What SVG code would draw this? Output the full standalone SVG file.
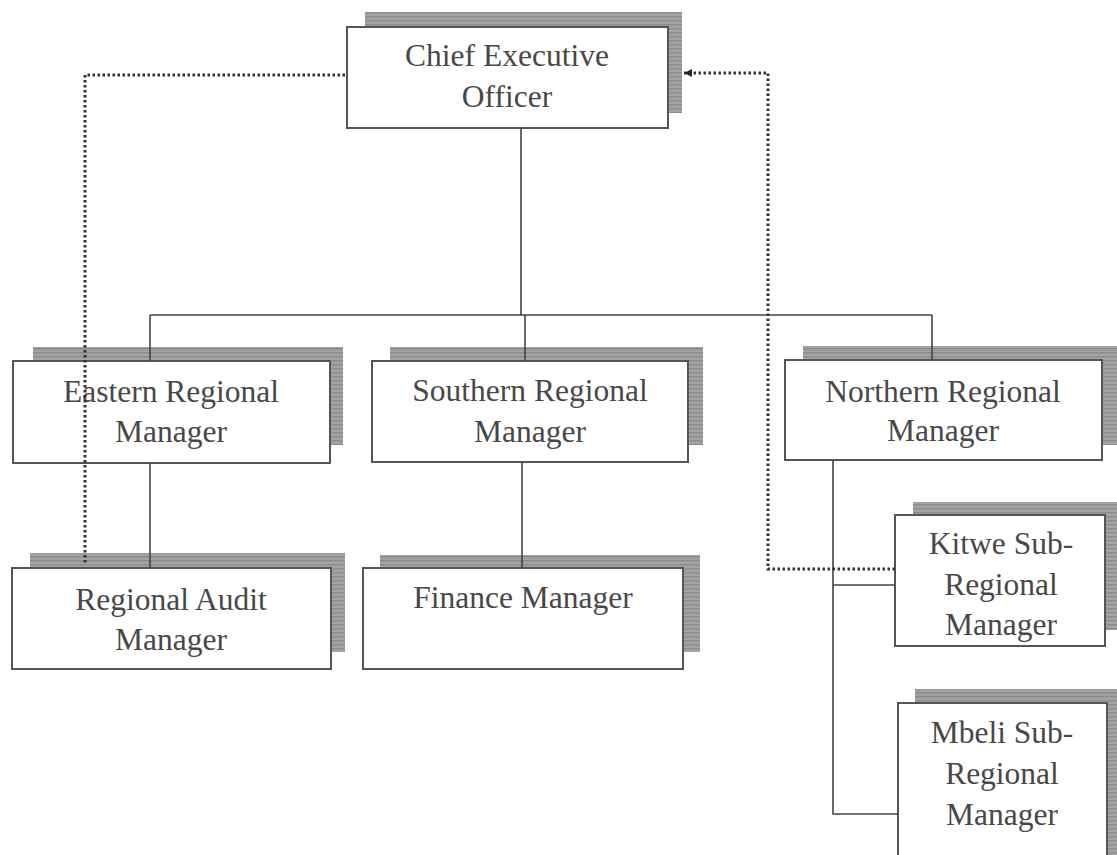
<svg xmlns="http://www.w3.org/2000/svg" width="1117" height="855" viewBox="0 0 1117 855">
<style>
.box{fill:#fff;stroke:#555;stroke-width:2}
.sh{fill:url(#stripe)}
.t{font-family:"Liberation Serif","Times New Roman",serif;font-size:31.5px;fill:#484848;text-anchor:middle}
.c{fill:none;stroke:#444;stroke-width:1.6}
.d{fill:none;stroke:#333;stroke-width:3;stroke-dasharray:2.5 2.5}
</style>
<defs>
<pattern id="stripe" width="6" height="4" patternUnits="userSpaceOnUse">
<rect width="6" height="4" fill="#a3a3a3"/>
<rect width="6" height="1.5" fill="#8c8c8c"/>
</pattern>
<marker id="ah" markerWidth="10" markerHeight="10" refX="8" refY="5" orient="auto" markerUnits="userSpaceOnUse">
<path d="M0,1 L8,5 L0,9 Z" fill="#222"/>
</marker>
</defs>
<rect width="1117" height="855" fill="#fff"/>
<g id="ceo">
<path class="sh" d="M365,12 H682 V113 H668 V27 H365 Z"/>
<rect class="box" x="347" y="27" width="321" height="101"/>
<text class="t" x="507" y="66">Chief Executive</text>
<text class="t" x="507" y="107">Officer</text>
</g>
<g id="eastern">
<path class="sh" d="M33,347 H343 V445 H330 V361 H33 Z"/>
<rect class="box" x="13" y="361" width="317" height="102"/>
<text class="t" x="171" y="402">Eastern Regional</text>
<text class="t" x="171" y="442">Manager</text>
</g>
<g id="southern">
<path class="sh" d="M390,347 H703 V445 H688 V361 H390 Z"/>
<rect class="box" x="372" y="361" width="316" height="101"/>
<text class="t" x="530" y="401">Southern Regional</text>
<text class="t" x="530" y="442">Manager</text>
</g>
<g id="northern">
<path class="sh" d="M803,346 H1117 V445 H1102 V360 H803 Z"/>
<rect class="box" x="785" y="360" width="317" height="100"/>
<text class="t" x="943" y="402">Northern Regional</text>
<text class="t" x="943" y="441">Manager</text>
</g>
<g id="audit">
<path class="sh" d="M30,553 H345 V652 H331 V568 H30 Z"/>
<rect class="box" x="12" y="568" width="319" height="101"/>
<text class="t" x="171" y="610">Regional Audit</text>
<text class="t" x="171" y="650">Manager</text>
</g>
<g id="finance">
<path class="sh" d="M380,555 H700 V652 H683 V568 H380 Z"/>
<rect class="box" x="363" y="568" width="320" height="101"/>
<text class="t" x="523" y="608">Finance Manager</text>
</g>
<g id="kitwe">
<path class="sh" d="M913,502 H1117 V630 H1105 V515 H913 Z"/>
<rect class="box" x="895" y="515" width="210" height="131"/>
<text class="t" x="1001" y="554">Kitwe Sub-</text>
<text class="t" x="1001" y="595">Regional</text>
<text class="t" x="1001" y="635">Manager</text>
</g>
<g id="mbeli">
<path class="sh" d="M915,689 H1117 V855 H1107 V703 H915 Z"/>
<rect class="box" x="898" y="703" width="209" height="160"/>
<text class="t" x="1002" y="743">Mbeli Sub-</text>
<text class="t" x="1002" y="784">Regional</text>
<text class="t" x="1002" y="825">Manager</text>
</g>
<g id="connectors">
<path class="c" d="M521,128 V315 M150,315 H932 M150,315 V361 M525,315 V361 M932,315 V360"/>
<path class="c" d="M150,463 V568"/>
<path class="c" d="M522,462 V568"/>
<path class="c" d="M833,460 V814 H898 M833,585 H895"/>
<path class="d" d="M345,75 H85 V565"/>
<path class="d" d="M895,569 H768 V73 H684" marker-end="url(#ah)"/>
</g>
</svg>
